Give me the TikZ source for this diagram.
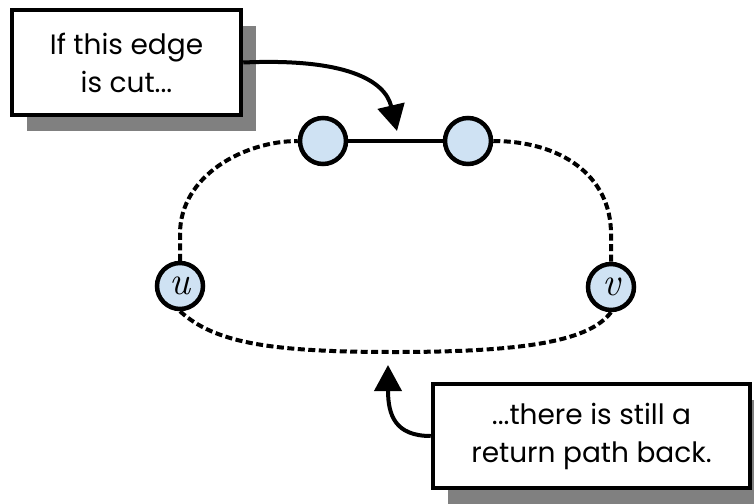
\documentclass[tikz,border=0pt]{standalone}
\usepackage{fontspec}
\setmainfont{Poppins}
\newfontfamily\varfont{Latin Modern Roman}
\usetikzlibrary{arrows.meta,shadows}
\definecolor{nodeblue}{RGB}{207,226,243}
\definecolor{shadowgray}{RGB}{128,128,128}
\tikzset{
  vert/.style={circle,draw=black,line width=4.5pt,fill=nodeblue,minimum size=46pt,inner sep=0pt,
    font=\varfont\itshape\fontsize{40}{40}\selectfont},
  callout/.style={draw=black,line width=4.5pt,fill=white,align=center,
    font=\fontsize{28}{38}\selectfont,
    drop shadow={shadow xshift=15pt,shadow yshift=-16pt,fill=shadowgray,opacity=1,draw=none}},
  dashedge/.style={line width=4pt,dash pattern=on 7pt off 3.5pt},
  solidedge/.style={line width=4pt},
  pointer/.style={line width=4pt,-{Triangle[length=26pt,width=27pt]}}
}
\begin{document}
\begin{tikzpicture}[x=1pt,y=-1pt]
\useasboundingbox (0,0) rectangle (754,503);
\node[vert] (a) at (323,141) {};
\node[vert] (b) at (468,141) {};
\node[vert] (u) at (180,286) {u};
\node[vert] (v) at (611,287) {v};
\draw[solidedge] (a) -- (b);
\draw[dashedge] (u.north) -- (180,234) .. controls (180,175) and (245,141) .. (a.west);
\draw[dashedge] (b.east) .. controls (560,141) and (611,175) .. (611,234) -- (v.north);
\draw[dashedge] (u.south) .. controls (215,343) and (270,352) .. (395,352) .. controls (530,352) and (590,340) .. (v.south);
\node[callout,minimum width=229pt,minimum height=105pt] (c1) at (126.5,62.5) {If this edge\\is cut...};
\node[callout,minimum width=317pt,minimum height=104pt] (c2) at (591.5,436) {...there is still a\\return path back.};
\coordinate (t1) at (397,131);
\coordinate (t2) at (388,365);
\draw[pointer] (c1.east) .. controls (345,58) and (385,80) .. (t1);
\draw[pointer] (c2.west) .. controls (395,436) and (388,415) .. (t2);
\end{tikzpicture}
\end{document}
